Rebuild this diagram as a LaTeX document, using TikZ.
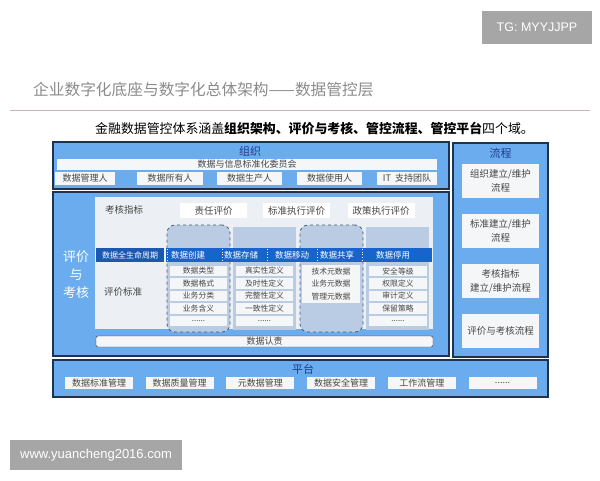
\documentclass[tikz,border=0pt]{standalone}
\usepackage{fontspec}
\setmainfont{Noto Sans CJK SC}
\newfontfamily\latinsans{Liberation Sans}

\definecolor{bgblue}{RGB}{106,172,238}
\definecolor{framec}{RGB}{30,50,82}
\definecolor{innerg}{RGB}{236,239,243}
\definecolor{colfill}{RGB}{186,204,228}
\definecolor{barblue}{RGB}{24,100,204}
\definecolor{barblueb}{RGB}{28,88,178}
\definecolor{cellw}{RGB}{245,246,248}
\definecolor{txtc}{RGB}{70,70,70}
\definecolor{headc}{RGB}{30,60,140}
\definecolor{titlegray}{RGB}{140,140,140}
\definecolor{rulec}{RGB}{200,180,182}
\definecolor{wmgray}{RGB}{166,166,166}

% 省略号单元, 避免在 \foreach 中直接写 "..."
\newcommand\cellmore{......}

\begin{document}
\begin{tikzpicture}[x=1pt, y=-1pt,
    frame/.style={draw=framec, line width=1.2pt, fill=bgblue, inner sep=0pt},
    head/.style={inner sep=0pt, text=headc, font=\fontsize{11}{11}\selectfont},
    cell/.style={fill=cellw, inner sep=0pt, text=txtc, font=\fontsize{9}{9}\selectfont},
    smallcell/.style={cell, minimum width=57pt, minimum height=10.5pt, font=\fontsize{7.8}{8}\selectfont},
    flowcell/.style={cell, minimum width=77pt, minimum height=34pt, align=center, font=\fontsize{9.5}{14}\selectfont},
    dashcol/.style={fill=colfill, draw=framec!80, dashed, line width=0.8pt, rounded corners=8pt, minimum width=63pt, minimum height=107pt, inner sep=0pt},
    solidcol/.style={fill=colfill, minimum width=63pt, minimum height=103pt, inner sep=0pt},
    plain/.style={inner sep=0pt, text=txtc, font=\fontsize{9.5}{10}\selectfont}]

    % 画布: 600 x 480, 1pt 对应 1 像素, y 轴向下
    \useasboundingbox (0,0) rectangle (600,480);
    \fill[white] (0,0) rectangle (600,480);

    % 右上角标签与左下角网址
    \node (tg) [fill=wmgray, minimum width=110pt, minimum height=33pt, text=white,
        font=\latinsans\fontsize{12.5}{13}\selectfont] at (537,27.5) {TG: MYYJJPP};
    \node (site) [fill=wmgray, minimum width=172pt, minimum height=30pt, text=white,
        font=\latinsans\fontsize{13}{13}\selectfont] at (96,455) {www.yuancheng2016.com};

    % 标题与说明
    \node (title) [anchor=west, inner sep=0pt, text=titlegray, font=\fontsize{15.7}{16}\selectfont]
        at (33,90) {企业数字化底座与数字化总体架构——数据管控层};
    \draw[rulec, line width=1pt] (10,110) -- (590,110);
    \node (subtitle) [anchor=west, inner sep=0pt, font=\fontsize{12.9}{13}\selectfont]
        at (95,128) {金融数据管控体系涵盖\textbf{组织架构、评价与考核、管控流程、管控平台}四个域。};

    % 组织
    \node (org) [frame, minimum width=396pt, minimum height=47pt] at (251,165.5) {};
    \node (orgtitle) [head] at (250,151.5) {组织};
    \node (committee) [cell, minimum width=380pt, minimum height=11pt] at (247,164.5) {数据与信息标准化委员会};
    \foreach \cx/\w/\t [count=\i] in {85/60/数据管理人, 170/66/数据所有人, 249.5/65/数据生产人,
        329.5/65/数据使用人, 407/60/IT\ \ 支持团队}
        \node (role\i) [cell, minimum width=\w pt, minimum height=13pt] at (\cx,178.5) {\t};

    % 评价与考核
    \node (eval) [frame, minimum width=396pt, minimum height=164pt] at (251,274) {};
    \node (evalarea) [fill=innerg, minimum width=338pt, minimum height=132pt, inner sep=0pt] at (264,263) {};
    \node (evallabel) [inner sep=0pt, text=white, align=center, font=\fontsize{13}{18}\selectfont]
        at (76,275) {评价\\与\\考核};
    \node (kpi) [plain] at (124,210) {考核指标};
    \foreach \cx/\t [count=\i] in {213.5/责任评价, 296.5/标准执行评价, 381/政策执行评价}
        \node (kpibox\i) [cell, fill=white, minimum width=67pt, minimum height=15pt,
            font=\fontsize{9.5}{10}\selectfont] at (\cx,210.5) {\t};

    % 生命周期各列
    \foreach \cx/\s [count=\i] in {198.5/dashcol, 264.5/solidcol, 331.5/dashcol, 397.5/solidcol}
        \node (col\i) [\s] at (\cx,278.5) {};

    % 数据全生命周期横条
    \node (lifelabel) [fill=barblueb, minimum width=68pt, minimum height=14pt, inner sep=0pt,
        text=white, font=\fontsize{8}{8}\selectfont] at (130,255) {数据全生命周期};
    \node (lifebar) [fill=barblue, minimum width=266pt, minimum height=14pt, inner sep=0pt] at (299,255) {};
    \foreach \cx/\t [count=\i] in {188/数据创建, 241/数据存储, 292/数据移动, 337/数据共享, 393/数据停用}
        \node (stage\i) [inner sep=0pt, text=white, font=\fontsize{8.5}{9}\selectfont] at (\cx,255) {\t};
    \foreach \x in {167,222,267,317,362}
        \draw[white, dotted, line width=0.7pt] (\x,249) -- (\x,261);

    % 评价标准
    \node (standard) [plain] at (123,292) {评价标准};
    \foreach \t [count=\j] in {数据类型, 数据格式, 业务分类, 业务含义, \cellmore}
        \node (create\j) [smallcell] at (198.5,258.5+12.5*\j) {\t};
    \foreach \t [count=\j] in {真实性定义, 及时性定义, 完整性定义, 一致性定义, \cellmore}
        \node (store\j) [smallcell] at (264.5,258.5+12.5*\j) {\t};
    \node (meta) [smallcell, minimum width=58pt, minimum height=38pt, align=center,
        font=\fontsize{7.8}{12.5}\selectfont] at (331,284) {技术元数据\\业务元数据\\管理元数据};
    \foreach \t [count=\j] in {安全等级, 权限定义, 审计定义, 保留策略, \cellmore}
        \node (stop\j) [smallcell, minimum width=58pt] at (398,258.5+12.5*\j) {\t};

    % 数据认责
    \node (duty) [fill=cellw, draw=framec, rounded corners=2pt, minimum width=337pt, minimum height=11pt,
        inner sep=0pt, text=txtc, font=\fontsize{9}{9}\selectfont] at (264.5,341.5) {数据认责};

    % 流程
    \node (flow) [frame, minimum width=95pt, minimum height=214pt] at (500.5,250) {};
    \node (flowtitle) [head] at (500.5,153) {流程};
    \foreach \t [count=\k] in {{组织建立/维护\\流程}, {标准建立/维护\\流程}, {考核指标\\建立/维护流程}, {评价与考核流程}}
        \node (flow\k) [flowcell] at (500.5,131+50*\k) {\t};

    % 平台
    \node (platform) [frame, minimum width=495pt, minimum height=37pt] at (300.5,378.5) {};
    \node (platformtitle) [head] at (303,369) {平台};
    \foreach \t [count=\k] in {数据标准管理, 数据质量管理, 元数据管理, 数据安全管理, 工作流管理, \cellmore}
        \node (tool\k) [cell, minimum width=68pt, minimum height=12pt] at (18.3+80.7*\k,383) {\t};
\end{tikzpicture}
\end{document}
